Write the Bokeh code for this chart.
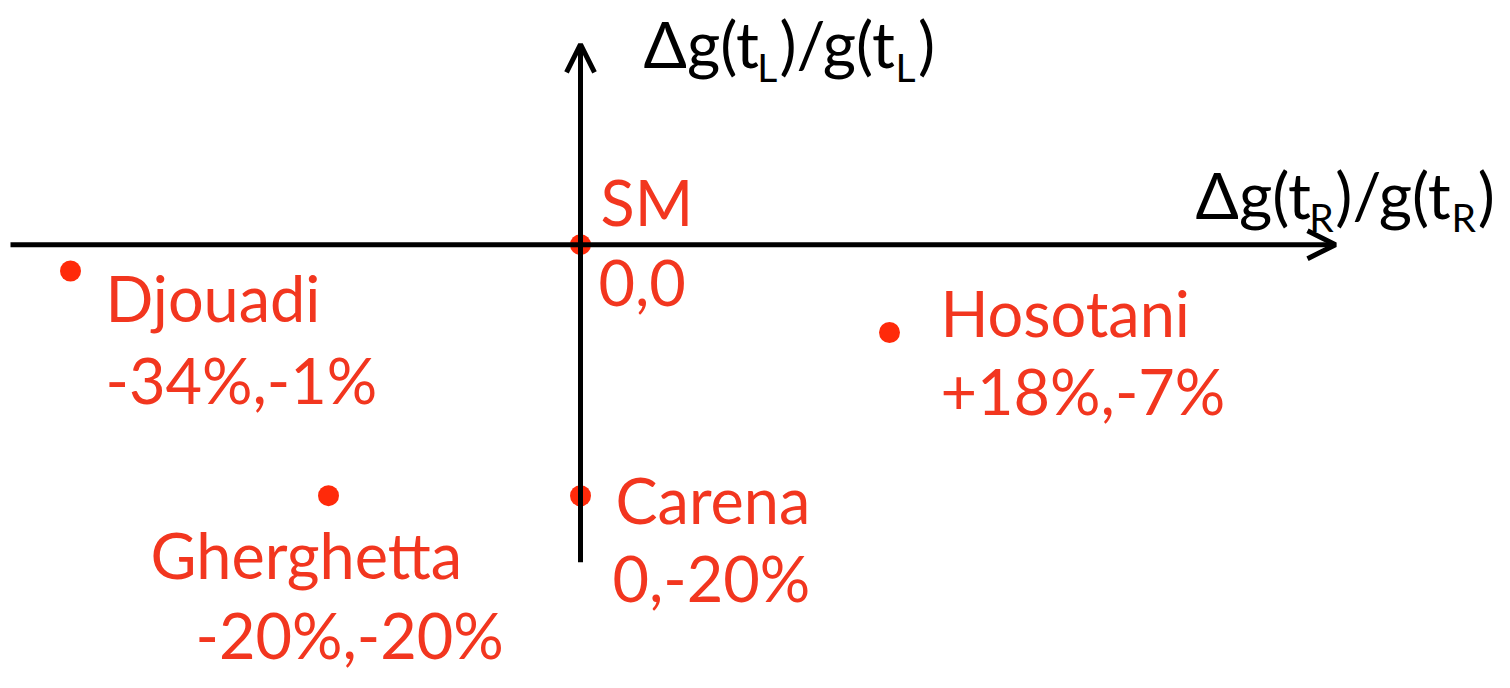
from bokeh.plotting import figure
from bokeh.models import Range1d, Arrow, OpenHead, ColumnDataSource
from bokeh.core.properties import value
from bokeh.embed import file_html
from bokeh.resources import INLINE

# ---- data ----
names = ["SM", "Djouadi", "Hosotani", "Gherghetta", "Carena"]
shift_labels = ["0,0", "-34%,-1%", "+18%,-7%", "-20%,-20%", "0,-20%"]
# positions as drawn in the schematic (percent units)
x_pos = [0, -34, 20.6, -16.8, 0]
y_pos = [0, -2.1, -7.0, -20, -20]

x_axis_label_parts = ["Δg(t", "R", ")/g(t", "R", ")"]
y_axis_label_parts = ["Δg(t", "L", ")/g(t", "L", ")"]

# ---- styling / layout ----
RED_TEXT = "#f2361f"
RED_DOT = "#ff2a0a"
FONT = value("Lato")
W, H = 1494, 672
SX, SY = 1.0, H / 688
KB = 0.40  # baseline compensation (fraction of font size)

FS = 63            # point label font size (px)
AFS, SFS = 64, 39  # axis title / subscript font size (px)

# label offsets from each point (reference pixels)
name_dx = [20, 35, 51, -178, 35]
name_dy = [-18, 53, 5, 86, 30]
val_dx = [18, 35, 51, -133, 32]
val_dy = [65, 137, 85, 168, 110]

p = figure(width=W, height=H, output_backend="svg", toolbar_location=None,
           x_range=Range1d((0 - 580) / 15, (W - 580) / 15),
           y_range=Range1d((250 - 688) / 12.85, 250 / 12.85),
           min_border=0, outline_line_color=None)
p.axis.visible = False
p.grid.visible = False
p.background_fill_color = "white"
p.border_fill_color = "white"

x_lo, x_hi = (10 - 580) / 15, (1335 - 580) / 15
y_lo, y_hi = (250 - 575) / 12.85, (250 - 45) / 12.85

p.add_layout(Arrow(x_start=x_lo, y_start=0, x_end=x_hi, y_end=0,
                   line_color="black", line_width=5,
                   end=OpenHead(size=28, line_width=5, line_color="black")))
p.add_layout(Arrow(x_start=0, y_start=y_lo, x_end=0, y_end=y_hi,
                   line_color="black", line_width=5,
                   end=OpenHead(size=28, line_width=5, line_color="black")))

src = ColumnDataSource(dict(
    x=x_pos, y=y_pos, name=names, val=shift_labels,
    ndx=[d * SX for d in name_dx], ndy=[d * SY - KB * FS for d in name_dy],
    vdx=[d * SX for d in val_dx], vdy=[d * SY - KB * FS for d in val_dy]))
p.scatter("x", "y", source=src, size=21, fill_color=RED_DOT, line_color=None)
for col, dx, dy in (("name", "ndx", "ndy"), ("val", "vdx", "vdy")):
    p.text("x", "y", text=col, x_offset=dx, y_offset=dy, source=src,
           text_font=FONT, text_font_size=f"{FS}px", text_color=RED_TEXT,
           text_baseline="alphabetic", text_align="left")

# axis titles built from pieces (with subscripts), laid out contiguously
EM = {"Δg(t": 1.76, ")/g(t": 1.80, ")": 0.30, "L": 0.52, "R": 0.62}


def title_source(parts, ax, ay, start_dx, base_dy, sub_drop):
    dxs, dys, fss = [], [], []
    cur = start_dx * SX
    for i, t in enumerate(parts):
        sub = (i % 2 == 1)
        fs = SFS if sub else AFS
        dxs.append(cur)
        dys.append((base_dy + (sub_drop if sub else 0)) * SY - KB * fs)
        fss.append(f"{fs}px")
        cur += EM[t] * fs + (2 if sub else 1)
    return ColumnDataSource(dict(x=[ax] * len(parts), y=[ay] * len(parts),
                                 t=parts, dx=dxs, dy=dys, fs=fss))


yl = title_source(y_axis_label_parts, 0, y_hi, 643 - 580, 70 - 45, 14)
xl = title_source(x_axis_label_parts, x_hi, 0, 1195 - 1335, 225 - 250, 13)
for s in (yl, xl):
    p.text("x", "y", text="t", x_offset="dx", y_offset="dy", source=s,
           text_font=FONT, text_font_size="fs", text_color="black",
           text_baseline="alphabetic", text_align="left")

open("out.html", "w").write(file_html(p, INLINE))
